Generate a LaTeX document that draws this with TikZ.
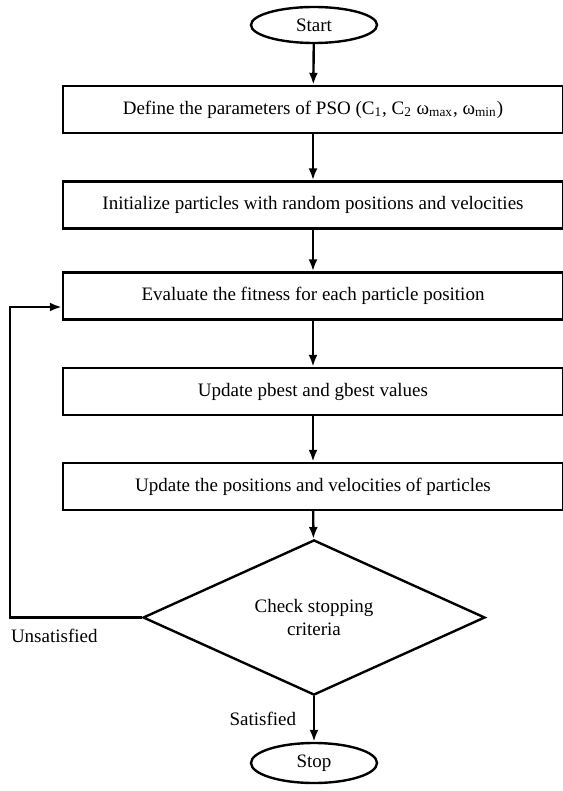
\documentclass[tikz,border=0pt]{standalone}
\usepackage{fontspec}
\setmainfont{Liberation Serif}
\usepackage{tikz}
\usetikzlibrary{arrows.meta,shapes}
\tikzset{>={Latex[length=6pt,width=4.5pt]}}

\begin{document}
\begin{tikzpicture}[x=0.5pt, y=-0.5pt, line width=1.2pt,
    every node/.style={font=\fontsize{9.5}{11.5}\selectfont},
    proc/.style={draw, rectangle, minimum width=250pt, minimum height=23.5pt, inner sep=0pt},
    term/.style={draw, ellipse, minimum width=63pt, inner sep=0pt}]
    \useasboundingbox (0,0) rectangle (562,791);
    \node at (314,25) [term, minimum height=18pt](start){Start};
    \node at (313,109.5) [proc](def){Define the parameters of PSO (C\textsubscript{1}, C\textsubscript{2} ω\textsubscript{max}, ω\textsubscript{min})};
    \node at (313,205) [proc](init){Initialize particles with random positions and velocities};
    \node at (313,296) [proc](eval){Evaluate the fitness for each particle position};
    \node at (313,391.5) [proc](best){Update pbest and gbest values};
    \node at (313,486.5) [proc](move){Update the positions and velocities of particles};
    \node at (314,617.5) [draw, diamond, minimum width=171pt, minimum height=62.5pt, inner sep=0pt, align=center](check){Check stopping\\criteria};
    \node at (314,763) [term, minimum height=20pt](stop){Stop};

    \draw [->] (start) -- (def);
    \draw [->] (def) -- (init);
    \draw [->] (init) -- (eval);
    \draw [->] (eval) -- (best);
    \draw [->] (best) -- (move);
    \draw [->] (move) -- (check);
    % loop back
    \draw [->] (check.west) --++ (-132,0) node[below right, inner sep=0pt, yshift=-5pt]{Unsatisfied} |- ([yshift=-5.5pt]eval.west);
    \draw [->] (check) -- (stop) node[midway, left=5pt]{Satisfied};
\end{tikzpicture}
\end{document}
